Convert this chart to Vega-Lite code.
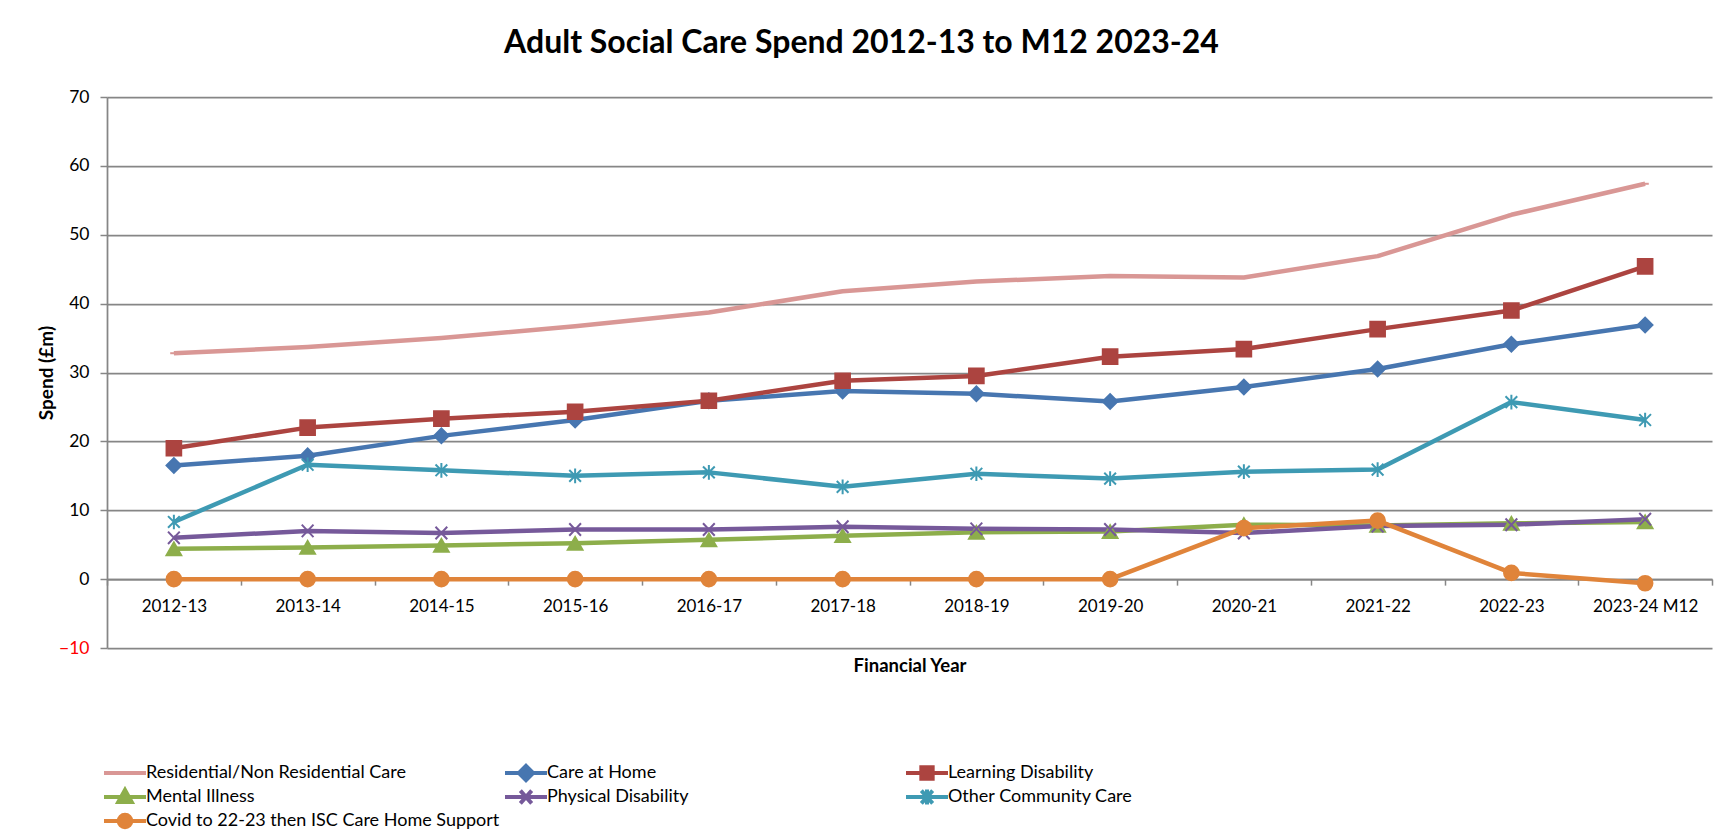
{
  "$schema": "https://vega.github.io/schema/vega-lite/v6.json",
  "width": 1605,
  "height": 551,
  "autosize": {"type": "none"},
  "padding": {"left": 107, "top": 97, "right": 23, "bottom": 184},
  "background": "white",
  "config": {"font": "Lato", "view": {"stroke": null}},
  "title": {"text": "Adult Social Care Spend 2012-13 to M12 2023-24", "font": "Lato", "fontSize": 32, "fontWeight": "bold", "color": "#000000", "anchor": "middle", "dx": -48, "offset": 28},
  "data": {"values": [
    {"year": "2012-13", "series": "Residential/Non Residential Care", "spend": 32.8},
    {"year": "2013-14", "series": "Residential/Non Residential Care", "spend": 33.7},
    {"year": "2014-15", "series": "Residential/Non Residential Care", "spend": 35.0},
    {"year": "2015-16", "series": "Residential/Non Residential Care", "spend": 36.7},
    {"year": "2016-17", "series": "Residential/Non Residential Care", "spend": 38.7},
    {"year": "2017-18", "series": "Residential/Non Residential Care", "spend": 41.8},
    {"year": "2018-19", "series": "Residential/Non Residential Care", "spend": 43.2},
    {"year": "2019-20", "series": "Residential/Non Residential Care", "spend": 44.0},
    {"year": "2020-21", "series": "Residential/Non Residential Care", "spend": 43.8},
    {"year": "2021-22", "series": "Residential/Non Residential Care", "spend": 46.9},
    {"year": "2022-23", "series": "Residential/Non Residential Care", "spend": 52.9},
    {"year": "2023-24 M12", "series": "Residential/Non Residential Care", "spend": 57.4},
    {"year": "2012-13", "series": "Care at Home", "spend": 16.5},
    {"year": "2013-14", "series": "Care at Home", "spend": 17.9},
    {"year": "2014-15", "series": "Care at Home", "spend": 20.8},
    {"year": "2015-16", "series": "Care at Home", "spend": 23.1},
    {"year": "2016-17", "series": "Care at Home", "spend": 25.9},
    {"year": "2017-18", "series": "Care at Home", "spend": 27.3},
    {"year": "2018-19", "series": "Care at Home", "spend": 26.9},
    {"year": "2019-20", "series": "Care at Home", "spend": 25.8},
    {"year": "2020-21", "series": "Care at Home", "spend": 27.9},
    {"year": "2021-22", "series": "Care at Home", "spend": 30.5},
    {"year": "2022-23", "series": "Care at Home", "spend": 34.1},
    {"year": "2023-24 M12", "series": "Care at Home", "spend": 36.9},
    {"year": "2012-13", "series": "Learning Disability", "spend": 19.0},
    {"year": "2013-14", "series": "Learning Disability", "spend": 22.0},
    {"year": "2014-15", "series": "Learning Disability", "spend": 23.3},
    {"year": "2015-16", "series": "Learning Disability", "spend": 24.3},
    {"year": "2016-17", "series": "Learning Disability", "spend": 25.9},
    {"year": "2017-18", "series": "Learning Disability", "spend": 28.8},
    {"year": "2018-19", "series": "Learning Disability", "spend": 29.5},
    {"year": "2019-20", "series": "Learning Disability", "spend": 32.3},
    {"year": "2020-21", "series": "Learning Disability", "spend": 33.4},
    {"year": "2021-22", "series": "Learning Disability", "spend": 36.3},
    {"year": "2022-23", "series": "Learning Disability", "spend": 39.0},
    {"year": "2023-24 M12", "series": "Learning Disability", "spend": 45.4},
    {"year": "2012-13", "series": "Mental Illness", "spend": 4.4},
    {"year": "2013-14", "series": "Mental Illness", "spend": 4.6},
    {"year": "2014-15", "series": "Mental Illness", "spend": 4.9},
    {"year": "2015-16", "series": "Mental Illness", "spend": 5.2},
    {"year": "2016-17", "series": "Mental Illness", "spend": 5.7},
    {"year": "2017-18", "series": "Mental Illness", "spend": 6.3},
    {"year": "2018-19", "series": "Mental Illness", "spend": 6.8},
    {"year": "2019-20", "series": "Mental Illness", "spend": 6.9},
    {"year": "2020-21", "series": "Mental Illness", "spend": 7.9},
    {"year": "2021-22", "series": "Mental Illness", "spend": 7.8},
    {"year": "2022-23", "series": "Mental Illness", "spend": 8.1},
    {"year": "2023-24 M12", "series": "Mental Illness", "spend": 8.3},
    {"year": "2012-13", "series": "Physical Disability", "spend": 6.0},
    {"year": "2013-14", "series": "Physical Disability", "spend": 7.0},
    {"year": "2014-15", "series": "Physical Disability", "spend": 6.7},
    {"year": "2015-16", "series": "Physical Disability", "spend": 7.2},
    {"year": "2016-17", "series": "Physical Disability", "spend": 7.2},
    {"year": "2017-18", "series": "Physical Disability", "spend": 7.6},
    {"year": "2018-19", "series": "Physical Disability", "spend": 7.3},
    {"year": "2019-20", "series": "Physical Disability", "spend": 7.2},
    {"year": "2020-21", "series": "Physical Disability", "spend": 6.7},
    {"year": "2021-22", "series": "Physical Disability", "spend": 7.7},
    {"year": "2022-23", "series": "Physical Disability", "spend": 7.9},
    {"year": "2023-24 M12", "series": "Physical Disability", "spend": 8.7},
    {"year": "2012-13", "series": "Other Community Care", "spend": 8.3},
    {"year": "2013-14", "series": "Other Community Care", "spend": 16.6},
    {"year": "2014-15", "series": "Other Community Care", "spend": 15.8},
    {"year": "2015-16", "series": "Other Community Care", "spend": 15.0},
    {"year": "2016-17", "series": "Other Community Care", "spend": 15.5},
    {"year": "2017-18", "series": "Other Community Care", "spend": 13.4},
    {"year": "2018-19", "series": "Other Community Care", "spend": 15.3},
    {"year": "2019-20", "series": "Other Community Care", "spend": 14.6},
    {"year": "2020-21", "series": "Other Community Care", "spend": 15.6},
    {"year": "2021-22", "series": "Other Community Care", "spend": 15.9},
    {"year": "2022-23", "series": "Other Community Care", "spend": 25.7},
    {"year": "2023-24 M12", "series": "Other Community Care", "spend": 23.1},
    {"year": "2012-13", "series": "Covid to 22-23 then ISC Care Home Support", "spend": 0},
    {"year": "2013-14", "series": "Covid to 22-23 then ISC Care Home Support", "spend": 0},
    {"year": "2014-15", "series": "Covid to 22-23 then ISC Care Home Support", "spend": 0},
    {"year": "2015-16", "series": "Covid to 22-23 then ISC Care Home Support", "spend": 0},
    {"year": "2016-17", "series": "Covid to 22-23 then ISC Care Home Support", "spend": 0},
    {"year": "2017-18", "series": "Covid to 22-23 then ISC Care Home Support", "spend": 0},
    {"year": "2018-19", "series": "Covid to 22-23 then ISC Care Home Support", "spend": 0},
    {"year": "2019-20", "series": "Covid to 22-23 then ISC Care Home Support", "spend": 0},
    {"year": "2020-21", "series": "Covid to 22-23 then ISC Care Home Support", "spend": 7.4},
    {"year": "2021-22", "series": "Covid to 22-23 then ISC Care Home Support", "spend": 8.5},
    {"year": "2022-23", "series": "Covid to 22-23 then ISC Care Home Support", "spend": 0.9},
    {"year": "2023-24 M12", "series": "Covid to 22-23 then ISC Care Home Support", "spend": -0.6}
  ]},
  "encoding": {
    "x": {
      "field": "year", "type": "ordinal",
      "sort": ["2012-13","2013-14","2014-15","2015-16","2016-17","2017-18","2018-19","2019-20","2020-21","2021-22","2022-23","2023-24 M12"],
      "scale": {"type": "band", "paddingInner": 0, "paddingOuter": 0},
      "axis": {
        "orient": "bottom", "offset": -68.875, "tickBand": "extent", "labelAngle": 0, "grid": false,
        "domainColor": "#868686", "domainWidth": 1.75, "tickColor": "#868686", "tickWidth": 1.5, "tickSize": 6,
        "labelFont": "Lato", "labelFontSize": 17, "labelColor": "#000000", "labelPadding": 13,
        "title": "Financial Year", "titleFont": "Lato", "titleFontSize": 18.5, "titleFontWeight": "bold", "titleColor": "#000000",
        "titleY": 86, "titleBaseline": "middle"
      }
    },
    "y": {
      "field": "spend", "type": "quantitative",
      "scale": {"domain": [-10, 70], "nice": false, "zero": false},
      "axis": {
        "values": [-10, 0, 10, 20, 30, 40, 50, 60, 70],
        "grid": true, "gridColor": "#868686", "gridWidth": 1.75,
        "domain": true, "domainColor": "#868686", "domainWidth": 1.75,
        "ticks": true, "tickColor": "#868686", "tickWidth": 1.5, "tickSize": 7,
        "labelFont": "Lato", "labelFontSize": 17.5, "labelPadding": 11,
        "labelColor": {"condition": {"test": "datum.value < 0", "value": "#FF0000"}, "value": "#000000"},
        "title": "Spend (£m)", "titleFont": "Lato", "titleFontSize": 19, "titleFontWeight": "bold", "titleColor": "#000000",
        "titleX": -61, "titleY": 275.5, "titleAngle": -90, "titleBaseline": "middle", "titleAlign": "center"
      }
    }
  },
  "layer": [
    {
      "mark": {"type": "line", "strokeWidth": 4.5, "strokeJoin": "round"},
      "encoding": {
        "color": {
          "field": "series", "type": "nominal", "legend": null,
          "scale": {
            "domain": ["Residential/Non Residential Care","Care at Home","Learning Disability","Mental Illness","Physical Disability","Other Community Care","Covid to 22-23 then ISC Care Home Support"],
            "range": ["#D99795","#4776B0","#AC4440","#8DAE4B","#76599A","#3E9AB3","#E0843A"]
          }
        }
      }
    },
    {
      "mark": {"type": "point", "filled": true, "opacity": 1, "strokeWidth": 2, "size": 215},
      "encoding": {
        "fill": {
          "field": "series", "type": "nominal", "legend": null,
          "scale": {
            "domain": ["Residential/Non Residential Care","Care at Home","Learning Disability","Mental Illness","Physical Disability","Other Community Care","Covid to 22-23 then ISC Care Home Support"],
            "range": ["#D99795","#4776B0","#AC4440","#8DAE4B","#76599A","#3E9AB3","#E0843A"]
          }
        },
        "stroke": {
          "field": "series", "type": "nominal", "legend": null,
          "scale": {
            "domain": ["Residential/Non Residential Care","Care at Home","Learning Disability","Mental Illness","Physical Disability","Other Community Care","Covid to 22-23 then ISC Care Home Support"],
            "range": ["#D99795","#4776B0","#AC4440","#8DAE4B","#76599A","#3E9AB3","#E0843A"]
          }
        },
        "shape": {
          "field": "series", "type": "nominal", "legend": null,
          "scale": {
            "domain": ["Residential/Non Residential Care","Care at Home","Learning Disability","Mental Illness","Physical Disability","Other Community Care","Covid to 22-23 then ISC Care Home Support"],
            "range": ["M-0.5,0H0.5","diamond","square","triangle-up","M-0.8,-0.85L0.8,0.85M-0.8,0.85L0.8,-0.85","M-0.8,-0.8L0.8,0.8M-0.8,0.8L0.8,-0.8M0,-1V1","circle"]
          }
        }
      }
    },
    {
      "transform": [{"filter": "false"}],
      "mark": {"type": "point", "filled": true, "opacity": 1, "strokeWidth": 4},
      "encoding": {
        "fill": {
          "field": "series", "type": "nominal",
          "scale": {
            "domain": ["Residential/Non Residential Care","Care at Home","Learning Disability","Mental Illness","Physical Disability","Other Community Care","Covid to 22-23 then ISC Care Home Support"],
            "range": ["#D99795","#4776B0","#AC4440","#8DAE4B","#76599A","#3E9AB3","#E0843A"]
          },
          "legend": {"orient": "none", "legendX": -5, "legendY": 664, "columns": 3, "direction": "horizontal", "title": null, "symbolSize": 1764, "symbolStrokeWidth": 4, "symbolOpacity": 1, "labelFont": "Lato", "labelFontSize": 18, "labelColor": "#000000", "labelOffset": -2, "labelLimit": 600, "columnPadding": 3, "rowPadding": 0, "clipHeight": 24, "gridAlign": "all", "padding": 0}
        },
        "stroke": {
          "field": "series", "type": "nominal",
          "scale": {
            "domain": ["Residential/Non Residential Care","Care at Home","Learning Disability","Mental Illness","Physical Disability","Other Community Care","Covid to 22-23 then ISC Care Home Support"],
            "range": ["#D99795","#4776B0","#AC4440","#8DAE4B","#76599A","#3E9AB3","#E0843A"]
          },
          "legend": {"orient": "none", "legendX": -5, "legendY": 664, "columns": 3, "direction": "horizontal", "title": null, "symbolSize": 1764, "symbolStrokeWidth": 4, "symbolOpacity": 1, "labelFont": "Lato", "labelFontSize": 18, "labelColor": "#000000", "labelOffset": -2, "labelLimit": 600, "columnPadding": 3, "rowPadding": 0, "clipHeight": 24, "gridAlign": "all", "padding": 0}
        },
        "shape": {
          "field": "series", "type": "nominal",
          "scale": {
            "domain": ["Residential/Non Residential Care","Care at Home","Learning Disability","Mental Illness","Physical Disability","Other Community Care","Covid to 22-23 then ISC Care Home Support"],
            "range": [
              "M-1,0H1",
              "M-1,0H1M0,-0.34L0.34,0L0,0.34L-0.34,0Z",
              "M-1,0H1M-0.27,-0.27H0.27V0.27H-0.27Z",
              "M-1,0H1M0,-0.34L0.32,0.24H-0.32Z",
              "M-1,0H1M-0.27,-0.3L0.27,0.3M-0.27,0.3L0.27,-0.3",
              "M-1,0H1M-0.27,-0.3L0.27,0.3M-0.27,0.3L0.27,-0.3M0,-0.36V0.36",
              "M-1,0H1M0.3,0A0.3,0.3,0,1,1,-0.3,0A0.3,0.3,0,1,1,0.3,0Z"
            ]
          },
          "legend": {"orient": "none", "legendX": -5, "legendY": 664, "columns": 3, "direction": "horizontal", "title": null, "symbolSize": 1764, "symbolStrokeWidth": 4, "symbolOpacity": 1, "labelFont": "Lato", "labelFontSize": 18, "labelColor": "#000000", "labelOffset": -2, "labelLimit": 600, "columnPadding": 3, "rowPadding": 0, "clipHeight": 24, "gridAlign": "all", "padding": 0}
        }
      }
    }
  ],
  "resolve": {"scale": {"shape": "independent", "fill": "independent", "stroke": "independent"}}
}
